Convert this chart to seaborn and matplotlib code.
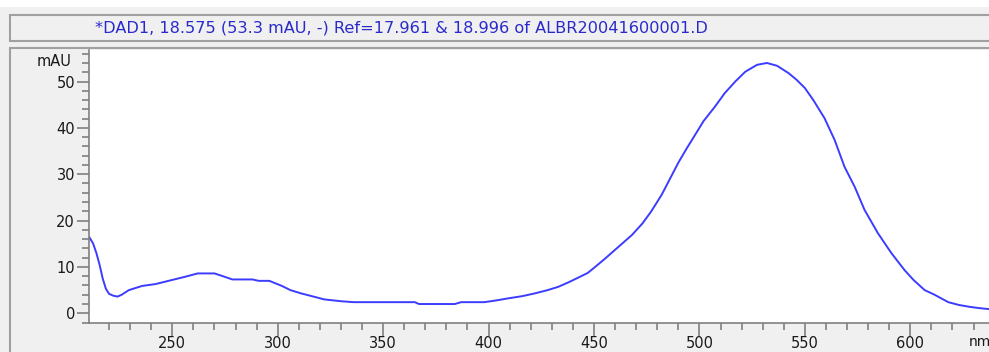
import numpy as np
import pandas as pd
import matplotlib
matplotlib.use("Agg")
import matplotlib.pyplot as plt
import seaborn as sns
from matplotlib.patches import Rectangle
from matplotlib.ticker import MultipleLocator, FixedLocator
import matplotlib.transforms as mtransforms

# ---- data ----
wavelength = [210.7, 212.5, 214, 215.5, 217, 218.5, 220, 222, 224, 226, 229.4, 235.7, 242, 250,
              256.3, 262, 270, 274, 278.5, 288, 291, 296, 302, 306, 311, 317, 322, 330, 336,
              345, 365, 367, 384, 387, 398, 404, 409, 416, 422, 428, 433, 438, 443, 447, 450,
              455, 460, 464, 468, 473, 477, 482, 486, 490, 494, 497, 502, 507.4, 512, 517,
              521.7, 527.3, 532, 536.8, 542.3, 546, 550, 554, 559.3, 564.1, 568.8, 573.6,
              578.3, 584.6, 591, 597.3, 601.5, 606.8, 611.5, 618, 623, 628, 633, 637.3, 640]
absorbance = [16.4, 15.0, 13.0, 10.5, 7.5, 5.3, 4.2, 3.8, 3.6, 4.0, 5.0, 5.9, 6.3, 7.2,
              7.9, 8.6, 8.6, 8.0, 7.3, 7.3, 7.0, 7.0, 5.9, 5.0, 4.3, 3.6, 3.0, 2.6, 2.4,
              2.4, 2.4, 2.0, 2.0, 2.4, 2.4, 2.8, 3.2, 3.7, 4.3, 5.0, 5.7, 6.7, 7.8, 8.7, 9.8,
              11.7, 13.7, 15.3, 16.9, 19.4, 21.9, 25.5, 29.0, 32.5, 35.6, 37.8, 41.5, 44.6, 47.5, 50.0,
              52.1, 53.6, 54.0, 53.4, 51.8, 50.4, 48.6, 46.0, 42.1, 37.4, 31.6, 27.3,
              22.3, 17.3, 13.0, 9.3, 7.2, 5.0, 4.0, 2.4, 1.8, 1.4, 1.1, 0.9, 0.8]
x_ticks = [250, 300, 350, 400, 450, 500, 550, 600]
y_ticks = [0, 10, 20, 30, 40, 50]
title_text = "*DAD1, 18.575 (53.3 mAU, -) Ref=17.961 & 18.996 of ALBR20041600001.D"
x_unit = "nm"
y_unit = "mAU"

sns.set_theme(style="white")
plt.rcParams['font.family'] = ['DejaVu Sans']

W, H = 989, 352
fig = plt.figure(figsize=(W / 100, H / 100), dpi=100, facecolor="#f0f0f0")

def fx(px):
    return px / W

def fy(py):
    return 1 - py / H

# background decorations
fig.patches.append(Rectangle((0, fy(7)), 1, 7 / H, transform=fig.transFigure,
                             facecolor="white", edgecolor="none", zorder=-10))
fig.patches.append(Rectangle((fx(10), fy(41)), 1.0, (41 - 15) / H, transform=fig.transFigure,
                             facecolor="#f0f0f0", edgecolor="#a0a0a0", lw=1.5, zorder=-9))
fig.patches.append(Rectangle((fx(10), -0.1), 1.0, fy(48) + 0.1, transform=fig.transFigure,
                             facecolor="#f0f0f0", edgecolor="#a0a0a0", lw=1.5, zorder=-9))
fig.text(fx(95), fy(28), title_text, color="#2a2acc", fontsize=11.6, va="center", ha="left")

px_per_nm = 2.104
x0 = 210.5
ax = fig.add_axes([fx(89), fy(323.3), 1 - fx(89) + 0.002, fy(50) - fy(323.3)])
ax.set_facecolor("white")

df = pd.DataFrame({"nm": wavelength, "mAU": absorbance})
sns.lineplot(data=df, x="nm", y="mAU", ax=ax, color="#3c3cff", lw=1.4)

ax.set_xlim(x0, x0 + (W - 89) / px_per_nm)
ax.set_ylim(-2.16, 56.8)
ax.set_xlabel("")
ax.set_ylabel("")

for s in ["top", "right"]:
    ax.spines[s].set_visible(False)
for s in ["left", "bottom"]:
    ax.spines[s].set_color("#808080")
    ax.spines[s].set_linewidth(1.2)

ax.xaxis.set_major_locator(FixedLocator(x_ticks))
ax.xaxis.set_minor_locator(MultipleLocator(10))
ax.yaxis.set_major_locator(FixedLocator(y_ticks))
ax.yaxis.set_minor_locator(MultipleLocator(2))
ax.tick_params(which="major", length=9, width=1.2, color="#808080", labelsize=10.5,
               labelcolor="#1a1a1a", direction="out", pad=1)
ax.tick_params(axis="x", which="major", pad=0)
ax.tick_params(which="minor", length=5, width=1.2, color="#808080", direction="out")
ax.tick_params(axis="x", which="both", bottom=True)
ax.tick_params(axis="y", which="both", left=True)

ax.text(-17 / (W - 89), 54.3, y_unit, transform=mtransforms.blended_transform_factory(ax.transAxes, ax.transData),
        ha="right", va="center", fontsize=10.5, color="#1a1a1a")
ax.text(627.5, -(342 - 323.3) / (323.3 - 50), x_unit,
        transform=mtransforms.blended_transform_factory(ax.transData, ax.transAxes),
        ha="left", va="center", fontsize=10, color="#1a1a1a", clip_on=False)

fig.savefig("out.png", dpi=100, facecolor=fig.get_facecolor())
